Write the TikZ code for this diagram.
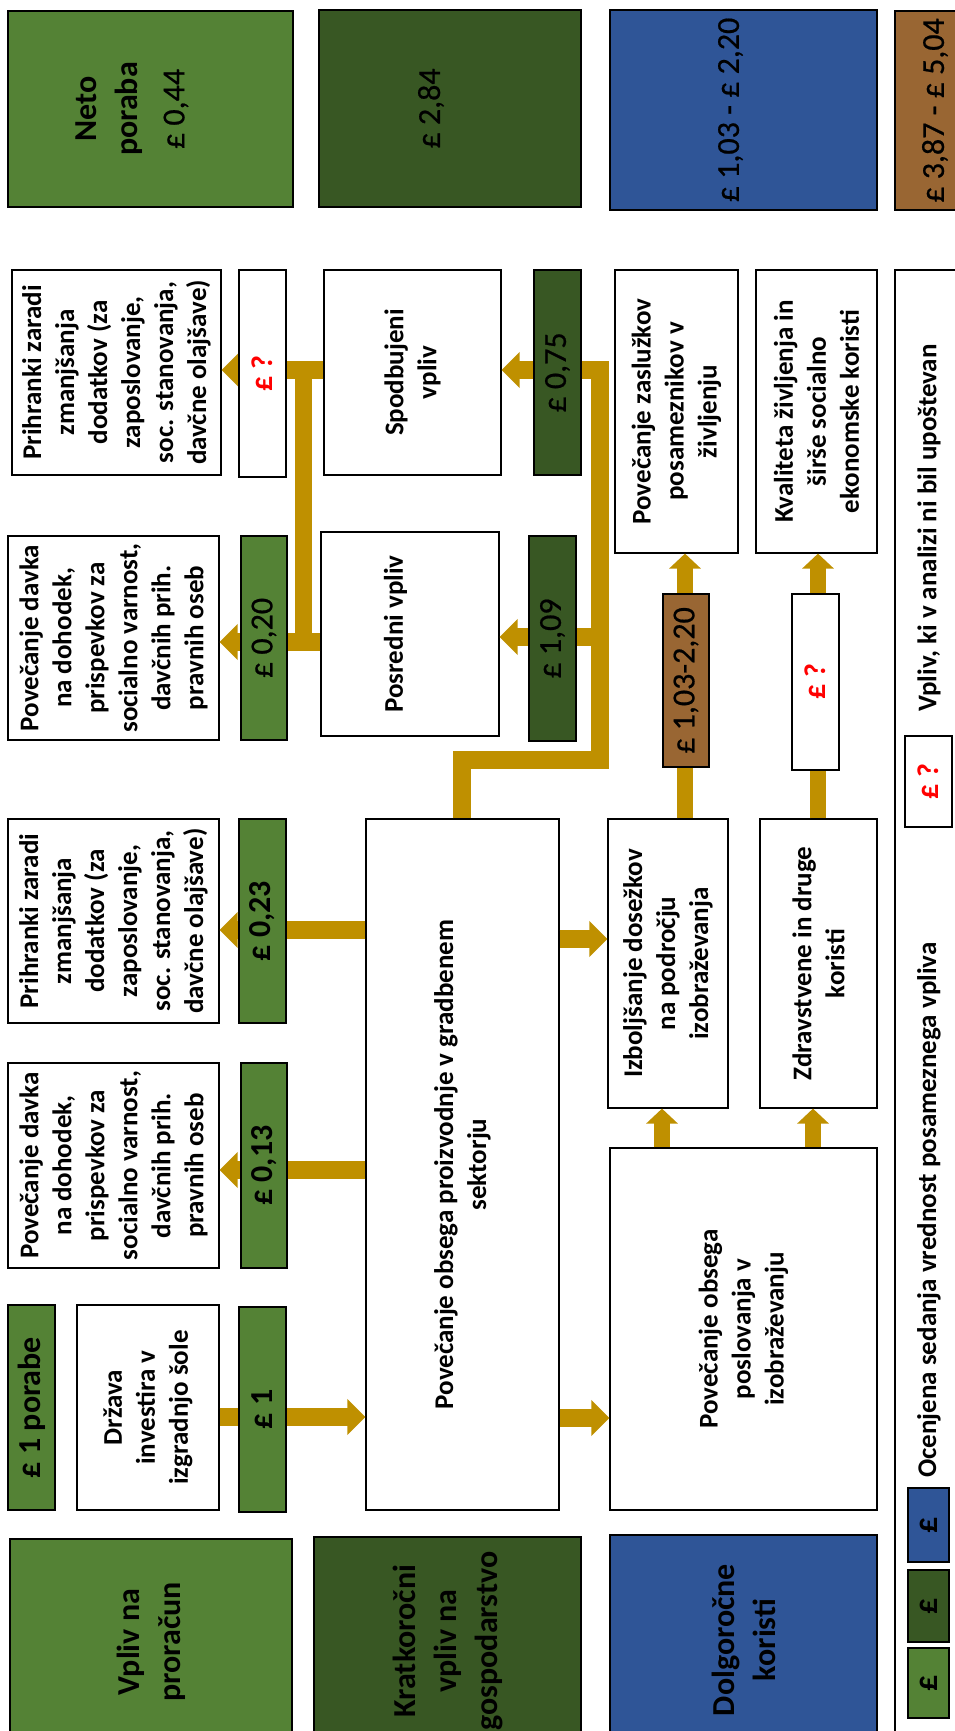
\documentclass[tikz,border=0pt]{standalone}
\usepackage{fontspec}
\setmainfont{Carlito}
\newfontfamily\valfont{Carlito}[FakeBold=0.6]
\usetikzlibrary{arrows.meta}
\definecolor{ltg}{RGB}{84,130,53}
\definecolor{dkg}{RGB}{56,87,35}
\definecolor{blu}{RGB}{47,85,151}
\definecolor{brn}{RGB}{153,102,51}
\definecolor{gld}{RGB}{191,144,0}
\begin{document}
\begin{tikzpicture}[x=1pt,y=-1pt,
  bx/.style={draw=black,line width=1.2pt,rotate=90,inner sep=0pt,align=center,fill=white},
  txt/.style={font=\fontsize{27}{33}\selectfont\bfseries},
  big/.style={font=\fontsize{32}{41}\selectfont\bfseries},
  val/.style={font=\fontsize{32}{38}\selectfont\valfont},
  valb/.style={font=\fontsize{32}{38}\selectfont\bfseries},
  qm/.style={font=\fontsize{30}{36}\selectfont\bfseries\color{red}},
  sz/.style 2 args={minimum width=#1pt,minimum height=#2pt},
  bigarr/.style={gld,line width=18pt,-{Triangle[length=18pt,width=35pt]}},
  smallarr/.style={gld,line width=16pt,-{Triangle[length=15pt,width=31pt]}},
  legtxt/.style={rotate=90,inner sep=0pt,anchor=west,font=\fontsize{27}{33}\selectfont\bfseries}
]
\useasboundingbox (0,0) rectangle (955,1731);

% legend frame
\node[bx,fill=none,sz={1475}{90}] (legend) at (940,1007.5) {};

% top summary boxes
\node[bx,sz={196}{285},fill=ltg,big] (neto) at (150.5,109) {Neto\\poraba\\[6pt]{\mdseries\valfont £ 0,44}\\~};
\node[bx,sz={197}{262},fill=dkg,val] (gdp) at (450,108.5) {£ 2,84\\[4pt]~};
\node[bx,sz={200}{267},fill=blu,val] (lt) at (743.5,110) {£ 1,03 - £ 2,20\\[-8pt]~};
\node[bx,sz={199}{80},fill=brn,val] (tot) at (935,110.5) {£ 3,87 - £ 5,04};

% white boxes
\node[bx,sz={205}{209},txt] (prih1) at (116.5,372.5) {Prihranki zaradi\\zmanjšanja\\dodatkov (za\\zaposlovanje,\\soc. stanovanja,\\davčne olajšave)};
\node[bx,sz={205}{177},txt] (spod) at (412.5,372.5) {Spodbujeni\\vpliv};
\node[bx,sz={283}{123},txt] (zasl) at (676.5,411.5) {Povečanje zaslužkov\\posameznikov v\\življenju};
\node[bx,sz={283}{121},txt] (kval) at (816.5,411.5) {Kvaliteta življenja in\\širše socialno\\ekonomske koristi};
\node[bx,sz={204}{211},txt] (dav1) at (113.5,638) {Povečanje davka\\na dohodek,\\prispevkov za\\socialno varnost,\\davčnih prih.\\pravnih oseb};
\node[bx,sz={204}{178},txt] (posr) at (410,634) {Posredni vpliv\\~};
\node[bx,sz={204}{211},txt] (prih2) at (113.5,921) {Prihranki zaradi\\zmanjšanja\\dodatkov (za\\zaposlovanje,\\soc. stanovanja,\\davčne olajšave)};
\node[bx,sz={691}{193},txt] (proizv) at (462.5,1164.5) {Povečanje obsega proizvodnje v gradbenem\\sektorju};
\node[bx,sz={289}{120},txt] (izb) at (668,963.5) {Izboljšanje dosežkov\\na področju\\izobraževanja};
\node[bx,sz={289}{117},txt] (zdr) at (818.5,963.5) {Zdravstvene in druge\\koristi};
\node[bx,sz={205}{211},txt] (dav2) at (113.5,1165.5) {Povečanje davka\\na dohodek,\\prispevkov za\\socialno varnost,\\davčnih prih.\\pravnih oseb};
\node[bx,sz={362}{267},txt] (posl) at (743.5,1329) {Povečanje obsega\\poslovanja v\\izobraževanju};
\node[bx,sz={205}{142},txt] (drz) at (148,1407.5) {Država\\investira v\\izgradnjo šole};

% bottom category boxes
\node[bx,sz={206}{282},fill=ltg,big] (proracun) at (151,1642) {Vpliv na\\proračun};
\node[bx,sz={208}{267},fill=dkg,big] (kratko) at (447.5,1641) {Kratkoročni\\vpliv na\\gospodarstvo};
\node[bx,sz={210}{267},fill=blu,big] (dolgo) at (743.5,1640) {Dolgoročne\\koristi};

% arrows
\draw[bigarr] (drz.south |- 0,1417) -- (proizv.north |- 0,1417);
\draw[bigarr] (proizv.south |- 0,1418) -- (posl.north |- 0,1418);
\draw[bigarr] (proizv.south |- 0,939) -- (izb.north |- 0,939);
\draw[bigarr] (proizv.north |- 0,1170) -- (dav2.south |- 0,1170);
\draw[bigarr] (proizv.north |- 0,930) -- (prih2.south |- 0,930);
\draw[smallarr] (posl.east -| 662,0) -- (izb.west -| 662,0);
\draw[smallarr] (posl.east -| 813,0) -- (zdr.west -| 813,0);
\draw[smallarr] (izb.east -| 685,0) -- (zasl.west -| 685,0);
\draw[smallarr] (zdr.east -| 818,0) -- (kval.west -| 818,0);
\coordinate (e1) at (462,760);
\coordinate (e2) at (600,760);
\coordinate (e3) at (600,370);
\coordinate (e4) at (600,637);
\draw[bigarr,line join=miter] (proizv.east -| e1) -- (e1) -- (e2) -- (e3) -- (spod.south |- e3);
\draw[bigarr] (e4) -- (posr.south |- e4);
\coordinate (t1) at (303,370);
\coordinate (t2) at (303,642);
\draw[bigarr] (spod.north |- t1) -- (prih1.south |- t1);
\draw[bigarr] (posr.north |- t2) -- (dav1.south |- t2);
\draw[gld,line width=17pt,line cap=square] (t1) -- (t2);

% value bars
\node[bx,sz={207}{47},qm] (q1) at (262.5,373.5) {£ ?};
\node[bx,sz={205}{47},fill=dkg,val] (v075) at (557.5,372.5) {£ 0,75};
\node[bx,sz={204}{46},fill=ltg,val] (v020) at (264,638) {£ 0,20};
\node[bx,sz={205}{47},fill=dkg,val] (v109) at (552.5,638.5) {£ 1,09};
\node[bx,sz={173}{46},fill=brn,val] (v103) at (686,680.5) {£ 1,03-2,20};
\node[bx,sz={176}{47},qm] (q2) at (815.5,682) {£ ?};
\node[bx,sz={204}{47},fill=ltg,valb] (v023) at (262.5,921) {£ 0,23};
\node[bx,sz={205}{46},fill=ltg,valb] (v013) at (264,1165.5) {£ 0,13};
\node[bx,sz={205}{47},fill=ltg,valb] (porabe) at (31.5,1407.5) {£ 1 porabe};
\node[bx,sz={205}{47},fill=ltg,valb] (v1) at (262.5,1409.5) {£ 1};

% legend
\node[bx,sz={91}{47},qm] (legq) at (928.5,781.5) {£ ?};
\node[bx,sz={74}{41},fill=blu,valb] (lgb) at (928.5,1525) {£};
\node[bx,sz={72}{41},fill=dkg,valb] (lgd) at (928.5,1606) {£};
\node[bx,sz={70}{41},fill=ltg,valb] (lgl) at (928.5,1683) {£};
\node[legtxt] (legt1) at (929,1478) {Ocenjena sedanja vrednost posameznega vpliva};
\node[legtxt] (legt2) at (929,712) {Vpliv, ki v analizi ni bil upoštevan};
\end{tikzpicture}
\end{document}
